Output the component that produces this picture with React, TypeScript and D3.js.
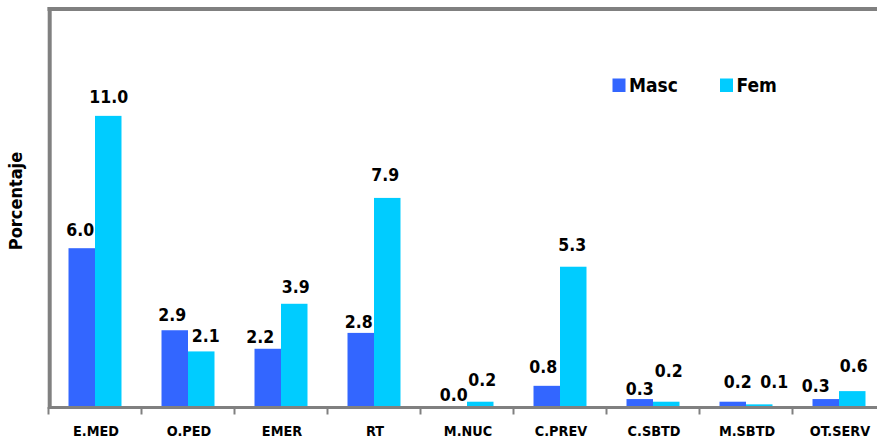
import React from "react";
import * as d3 from "d3";

const categories = ["E.MED", "O.PED", "EMER", "RT", "M.NUC", "C.PREV", "C.SBTD", "M.SBTD", "OT.SERV"];
const seriesNames = ["Masc", "Fem"];
const mascValues = [6.0, 2.9, 2.2, 2.8, 0.0, 0.8, 0.3, 0.2, 0.3];
const femValues = [11.0, 2.1, 3.9, 7.9, 0.2, 5.3, 0.2, 0.1, 0.6];
const yAxisTitle = "Porcentaje";

// hand-placed data label nudges (as in the original chart): [dx, lift above bar]
const labelNudge: Record<string, [number, number][]> = {
  Masc: [[-1.5, 12.5], [-2.5, 9], [-7.5, 6], [-2, 5], [0, 6], [-3.5, 12.5], [0, 4], [5, 14], [-10, 7]],
  Fem: [[0.5, 13], [4.5, 9], [1.5, 10.5], [-2, 17], [2, 16], [-1, 16], [2.5, 25], [15, 16.5], [1.5, 19.5]],
};

const colors: Record<string, string> = { Masc: "#3366FF", Fem: "#00CCFF" };
const FONT = "Tahoma, 'DejaVu Sans Condensed', 'DejaVu Sans', sans-serif";

export default function App() {
  const W = 877;
  const H = 439;
  const left = 48.5;
  const step = 93;
  const x0 = d3.scaleBand<string>().domain(categories).range([left, left + step * categories.length]).padding(0);
  const x1 = d3.scaleBand<string>().domain(seriesNames).range([0, x0.bandwidth()]).paddingInner(0).paddingOuter(0.755);
  const y = d3.scaleLinear().domain([0, 15]).range([407, 10]);
  const axisGray = "#808080";
  const series: Record<string, number[]> = { Masc: mascValues, Fem: femValues };

  return (
    <svg width={W} height={H} style={{ position: "absolute", left: 0, top: 0, background: "#fff" }}>
      {categories.map((cat, i) => (
        <g key={cat} transform={`translate(${x0(cat)},0)`}>
          {seriesNames.map((s) => {
            const v = series[s][i];
            const bx = x1(s)!;
            const [dx, lift] = labelNudge[s][i];
            return (
              <g key={s}>
                <rect x={bx} y={y(v)} width={x1.bandwidth()} height={y(0) - y(v)} fill={colors[s]} />
                <text
                  x={bx + x1.bandwidth() / 2 + dx}
                  y={y(v) - lift}
                  textAnchor="middle"
                  fontFamily={FONT}
                  fontWeight="bold"
                  fontSize={17.5}
                  fill="#000"
                >
                  {d3.format(".1f")(v)}
                </text>
              </g>
            );
          })}
          <text
            x={x0.bandwidth() / 2 + 1}
            y={436}
            textAnchor="middle"
            fontFamily={FONT}
            fontWeight="bold"
            fontSize={14.3}
            fill="#000"
          >
            {cat}
          </text>
        </g>
      ))}
      <line x1={47.5} x2={W + 20} y1={9} y2={9} stroke={axisGray} strokeWidth={4} />
      <line x1={49.7} x2={49.7} y1={7} y2={409} stroke={axisGray} strokeWidth={4} />
      <line x1={48} x2={W + 20} y1={407.5} y2={407.5} stroke={axisGray} strokeWidth={3} />
      {d3.range(categories.length + 1).map((i) => {
        const tx = left + i * step;
        return <line key={i} x1={tx} x2={tx} y1={407} y2={414.5} stroke={axisGray} strokeWidth={2} />;
      })}
      <text
        transform={`translate(22,201) rotate(-90)`}
        textAnchor="middle"
        fontFamily={FONT}
        fontWeight="bold"
        fontSize={18}
        fill="#000"
      >
        {yAxisTitle}
      </text>
      {seriesNames.map((s, i) => {
        const lx = [612.5, 720][i];
        return (
          <g key={s}>
            <rect x={lx} y={78.5} width={13} height={13.5} fill={colors[s]} />
            <text x={lx + 16.5} y={91.5} fontFamily={FONT} fontWeight="bold" fontSize={19} fill="#000">
              {s}
            </text>
          </g>
        );
      })}
    </svg>
  );
}
